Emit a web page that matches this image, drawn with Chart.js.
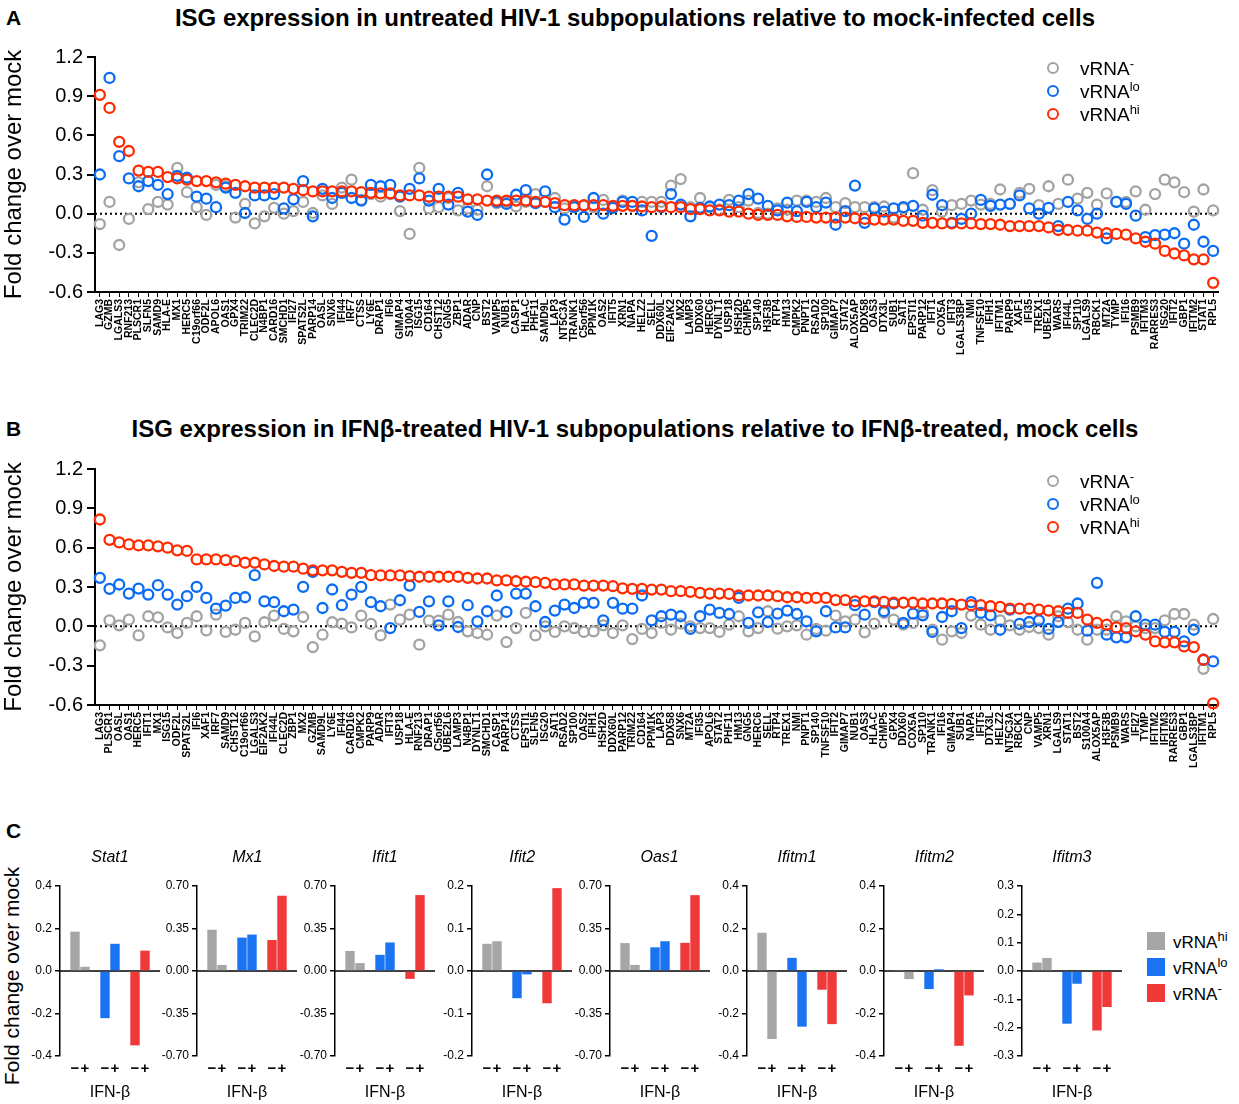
<!DOCTYPE html>
<html>
<head>
<meta charset="utf-8">
<script src="https://cdn.jsdelivr.net/npm/chart.js@4.4.0/dist/chart.umd.min.js"></script>
<style>
  body { margin: 0; background: #fff; font-family: "Liberation Sans", Arial, sans-serif; }
  #page { position: relative; width: 1239px; height: 1104px; overflow: hidden; }
  canvas { position: absolute; }
  .txt { position: absolute; color: #000; white-space: nowrap; }
  .letter { font-weight: bold; font-size: 21px; }
  .title { font-weight: bold; font-size: 24px; width: 1270px; text-align: center; left: 0; }
  .leg { position: absolute; font-size: 19px; line-height: 19px; white-space: nowrap; }
  .leg sup { font-size: 13px; vertical-align: 7px; line-height: 0; }
  .dot { display: inline-block; width: 8px; height: 8px; border-radius: 50%; border: 2.3px solid; margin-right: 21px; vertical-align: 1px; }
  .sq { display: inline-block; width: 18px; height: 18px; margin-right: 8px; vertical-align: -2px; }
  .gtitle { position: absolute; font-style: italic; font-size: 16px; width: 100px; text-align: center; }
</style>
</head>
<body>
<div id="page">
  <div class="txt letter" style="left:6px;top:6px">A</div>
  <div class="txt title" style="top:4px">ISG expression in untreated HIV-1 subpopulations relative to mock-infected cells</div>
  <canvas id="chartA" width="1239" height="340" style="left:0;top:40px"></canvas>
  <div class="leg" style="left:1047px;top:59px">
    <div style="height:23px"><span class="dot" style="border-color:#a3a3a3"></span>vRNA<sup>-</sup></div>
    <div style="height:23px"><span class="dot" style="border-color:#0a6cf5"></span>vRNA<sup>lo</sup></div>
    <div style="height:23px"><span class="dot" style="border-color:#ff2a00"></span>vRNA<sup>hi</sup></div>
  </div>

  <div class="txt letter" style="left:6px;top:417px">B</div>
  <div class="txt title" style="top:415px">ISG expression in IFNβ-treated HIV-1 subpopulations relative to IFNβ-treated, mock cells</div>
  <canvas id="chartB" width="1239" height="341" style="left:0;top:452px"></canvas>
  <div class="leg" style="left:1047px;top:472px">
    <div style="height:23px"><span class="dot" style="border-color:#a3a3a3"></span>vRNA<sup>-</sup></div>
    <div style="height:23px"><span class="dot" style="border-color:#0a6cf5"></span>vRNA<sup>lo</sup></div>
    <div style="height:23px"><span class="dot" style="border-color:#ff2a00"></span>vRNA<sup>hi</sup></div>
  </div>

  <div class="txt letter" style="left:6px;top:819px">C</div>
  <div class="txt" style="left:-108px;top:964px;font-size:21px;width:240px;text-align:center;transform:rotate(-90deg)">Fold change over mock</div>
  <div id="panelC"></div>
  <div class="leg" style="left:1147px;top:932px;font-size:17px">
    <div style="height:26px"><span class="sq" style="background:#a6a6a6"></span>vRNA<sup>hi</sup></div>
    <div style="height:26px"><span class="sq" style="background:#1a73f0"></span>vRNA<sup>lo</sup></div>
    <div style="height:26px"><span class="sq" style="background:#f03a3a"></span>vRNA<sup>-</sup></div>
  </div>
</div>

<script>
const FONT = '"Liberation Sans", Arial, sans-serif';
const RED = '#ff2a00';
const BLUE = '#0a6cf5';
const GREY = '#a3a3a3';

// panel A: untreated
const genesA = ['LAG3','GZMB','LGALS3','RNF213','PLSCR1','SLFN5','SAMD9','HLA-E','MX1','HERC5',
  'C19orf66','ODF2L','APOL6','OAS1','GPX4','TRIM22','CLEC2D','N4BP1','CARD16','SMCHD1',
  'IFI27','SPATS2L','PARP14','OASL','SNX6','IFI44','IRF7','CTSS','LY6E','DRAP1',
  'IFI6','GIMAP4','S100A4','ISG15','CD164','CHST12','GNG5','ZBP1','ADAR','CNP',
  'BST2','VAMP5','NUB1','CASP1','HLA-C','PHF11','SAMD9L','LAP3','NT5C3A','TRANK1',
  'C5orf56','PPM1K','OAS2','IFIT5','XRN1','NAPA','HELZ2','SELL','DDX60L','EIF2AK2',
  'MX2','LAMP3','DDX60','HERC6','DYNLT1','USP18','HSH2D','CHMP5','SP140','H3F3B',
  'RTP4','HM13','CMPK2','PNPT1','RSAD2','SP100','GIMAP7','STAT2','ALOX5AP','DDX58',
  'OAS3','DTX3L','SUB1','SAT1','EPSTI1','PARP12','IFIT1','COX5A','IFIT3','LGALS3BP',
  'NMI','TNFSF10','IFIH1','IFITM1','PARP9','XAF1','IFI35','TREX1','UBE2L6','WARS',
  'IFI44L','SP110','LGALS9','RBCK1','MT2A','TYMP','IFI16','PSMB9','IFITM3','RARRES3',
  'ISG20','IFIT2','GBP1','IFITM2','STAT1','RPL5'];
const hiA = [0.91,0.81,0.55,0.48,0.33,0.32,0.32,0.28,0.27,0.26,
  0.25,0.25,0.24,0.23,0.22,0.21,0.20,0.20,0.20,0.20,
  0.19,0.18,0.17,0.17,0.17,0.17,0.17,0.165,0.16,0.155,
  0.155,0.14,0.14,0.14,0.13,0.13,0.13,0.13,0.11,0.11,
  0.10,0.10,0.10,0.10,0.10,0.09,0.09,0.08,0.065,0.065,
  0.065,0.065,0.065,0.06,0.06,0.06,0.055,0.05,0.055,0.05,
  0.05,0.035,0.035,0.025,0.025,0.015,0.015,0.0,-0.01,-0.01,
  -0.01,-0.02,-0.025,-0.025,-0.03,-0.03,-0.03,-0.03,-0.035,-0.04,
  -0.045,-0.045,-0.045,-0.055,-0.055,-0.07,-0.07,-0.075,-0.075,-0.075,
  -0.075,-0.08,-0.08,-0.085,-0.095,-0.095,-0.095,-0.095,-0.105,-0.125,
  -0.125,-0.13,-0.13,-0.145,-0.15,-0.155,-0.16,-0.19,-0.215,-0.23,
  -0.285,-0.305,-0.32,-0.35,-0.35,-0.53];
const loA = [0.30,1.04,0.44,0.27,0.21,0.25,0.22,0.15,0.29,0.275,
  0.13,0.115,0.05,0.20,0.16,0.005,0.14,0.14,0.15,0.04,
  0.11,0.25,-0.02,0.19,0.12,0.16,0.12,0.10,0.22,0.21,
  0.22,0.13,0.19,0.27,0.10,0.19,0.07,0.16,0.015,-0.01,
  0.30,0.09,0.075,0.145,0.18,0.08,0.17,0.05,-0.045,0.05,
  -0.025,0.12,0.0,0.045,0.09,0.09,0.025,-0.17,0.05,0.15,
  0.07,-0.02,0.045,0.055,0.07,0.065,0.10,0.15,0.115,0.06,
  0.025,0.085,0.02,0.09,0.05,0.085,-0.085,0.02,0.215,-0.07,
  0.04,0.015,0.04,0.05,0.06,-0.015,0.145,0.065,-0.07,-0.04,
  0.0,0.105,0.06,0.07,0.075,0.14,0.04,0.0,0.045,-0.095,
  0.09,0.025,-0.04,0.0,-0.19,0.09,0.075,-0.015,-0.18,-0.165,
  -0.16,-0.15,-0.23,-0.085,-0.215,-0.285];
const negA = [-0.08,0.09,-0.24,-0.04,0.24,0.035,0.09,0.07,0.35,0.165,
  0.05,-0.01,0.22,0.21,-0.03,0.075,-0.075,-0.02,0.045,0.0,
  0.02,0.09,0.005,0.14,0.075,0.20,0.26,0.105,0.15,0.13,
  0.15,0.02,-0.155,0.35,0.04,0.05,0.12,0.025,0.04,0.03,
  0.21,0.08,0.09,0.055,0.09,0.15,0.09,0.12,0.04,0.05,
  0.06,0.05,0.105,0.05,0.10,0.06,0.09,0.09,0.09,0.215,
  0.265,0.05,0.12,0.05,0.03,0.105,0.05,0.10,0.005,0.0,
  0.04,0.03,0.10,0.10,0.09,0.12,0.05,0.08,0.05,0.05,
  0.05,0.055,-0.03,0.04,0.31,0.03,0.18,0.015,0.065,0.075,
  0.10,0.07,0.075,0.185,0.075,0.16,0.19,0.065,0.21,0.075,
  0.26,0.115,0.16,0.07,0.155,0.09,0.09,0.17,0.03,0.15,
  0.26,0.24,0.165,0.015,0.185,0.025];

// panel B: IFN-beta treated
const genesB = ['LAG3','PLSCR1','OASL','OAS1','HERC5','IFIT1','MX1','ISG15','ODF2L','SPATS2L',
  'IFI6','XAF1','IRF7','SAMD9','CHST12','C19orf66','LGALS3','EIF2AK2','IFI44L','CLEC2D',
  'ZBP1','MX2','GZMB','SAMD9L','LY6E','IFI44','CARD16','CMPK2','PARP9','ADAR',
  'IFIT3','USP18','HLA-E','RNF213','DRAP1','C5orf56','UBE2L6','LAMP3','N4BP1','DYNLT1',
  'SMCHD1','CASP1','PARP14','CTSS','EPSTI1','SLFN5','ISG20','SAT1','RSAD2','SP100',
  'OAS2','IFIH1','HSH2D','DDX60L','PARP12','TRIM22','CD164','PPM1K','LAP3','DDX58',
  'SNX6','MT2A','IFI35','APOL6','STAT2','PHF11','HM13','GNG5','HERC6','SELL',
  'RTP4','TREX1','NMI','PNPT1','SP140','TNFSF10','IFIT2','GIMAP7','NUB1','OAS3',
  'HLA-C','CHMP5','GPX4','DDX60','COX5A','SP110','TRANK1','IFI16','GIMAP4','SUB1',
  'NAPA','IFIT5','DTX3L','HELZ2','NT5C3A','RBCK1','CNP','VAMP5','XRN1','LGALS9',
  'STAT1','BST2','S100A4','ALOX5AP','H3F3B','PSMB9','WARS','IFI27','TYMP','IFITM2',
  'IFITM3','RARRES3','GBP1','LGALS3BP','IFITM1','RPL5'];
const hiB = [0.815,0.66,0.64,0.625,0.617,0.617,0.61,0.60,0.58,0.575,
  0.51,0.51,0.51,0.505,0.497,0.485,0.485,0.472,0.46,0.455,
  0.455,0.44,0.427,0.427,0.427,0.416,0.408,0.408,0.39,0.388,
  0.388,0.388,0.383,0.378,0.378,0.378,0.378,0.378,0.37,0.365,
  0.365,0.35,0.35,0.344,0.34,0.337,0.332,0.32,0.32,0.32,
  0.311,0.311,0.311,0.306,0.29,0.286,0.286,0.28,0.28,0.268,
  0.268,0.263,0.255,0.25,0.25,0.247,0.235,0.235,0.235,0.235,
  0.23,0.222,0.222,0.217,0.217,0.217,0.2,0.2,0.191,0.191,
  0.191,0.186,0.18,0.18,0.18,0.174,0.174,0.174,0.171,0.166,
  0.161,0.161,0.153,0.148,0.135,0.135,0.135,0.128,0.12,0.115,
  0.102,0.102,0.051,0.026,0.013,-0.008,-0.013,-0.038,-0.064,-0.115,
  -0.122,-0.122,-0.153,-0.158,-0.255,-0.587];
const loB = [0.37,0.286,0.319,0.25,0.288,0.242,0.314,0.242,0.166,0.23,
  0.301,0.217,0.135,0.158,0.217,0.222,0.39,0.191,0.184,0.115,
  0.128,0.301,0.416,0.14,0.281,0.161,0.242,0.301,0.184,0.153,
  -0.013,0.199,0.311,0.11,0.191,0.008,0.191,-0.005,0.161,0.038,
  0.115,0.235,0.11,0.25,0.25,0.153,0.033,0.12,0.166,0.14,
  0.179,0.179,0.046,0.179,0.135,0.135,0.235,0.046,0.077,0.089,
  0.077,-0.02,0.077,0.128,0.102,0.094,0.217,0.026,0.107,0.033,
  0.097,0.12,0.094,0.038,-0.038,0.115,-0.008,-0.008,0.161,0.089,
  0.184,0.115,0.174,0.026,0.097,0.084,-0.043,0.071,0.115,-0.013,
  0.184,0.102,0.084,-0.026,0.128,0.018,0.033,0.046,-0.02,0.033,
  0.135,0.174,-0.033,0.332,-0.064,-0.084,-0.084,0.077,0.013,0.013,
  -0.043,-0.043,-0.115,-0.026,-0.255,-0.268];
const negB = [-0.145,0.046,0.008,0.051,-0.069,0.077,0.069,-0.008,-0.051,0.026,
  0.077,-0.031,0.089,-0.043,-0.026,0.026,-0.077,0.031,0.082,-0.02,
  -0.038,0.071,-0.158,-0.064,0.031,0.02,-0.008,0.082,0.018,-0.069,
  0.166,0.051,0.089,-0.14,0.043,0.043,0.089,0.033,-0.038,-0.051,
  -0.064,0.082,-0.12,-0.013,0.102,-0.069,0.0,-0.043,0.0,-0.013,
  -0.043,-0.038,0.008,-0.051,0.008,-0.097,-0.02,-0.051,0.026,-0.026,
  0.02,0.0,-0.013,-0.013,-0.043,0.013,0.077,-0.038,-0.013,0.115,
  -0.018,0.0,0.008,-0.064,-0.02,-0.033,0.082,0.038,0.051,-0.046,
  0.02,0.102,0.051,0.013,0.026,0.107,-0.026,-0.102,-0.038,-0.051,
  0.082,0.013,-0.026,0.046,0.008,-0.026,-0.005,-0.013,-0.064,0.077,
  0.031,-0.026,-0.102,-0.026,-0.026,0.077,0.038,0.0,-0.013,-0.013,
  0.046,0.094,0.094,0.013,-0.324,0.056];

// panel C: [IFN-beta -, IFN-beta +] per gene
const cGenes = ['Stat1','Mx1','Ifit1','Ifit2','Oas1','Ifitm1','Ifitm2','Ifitm3'];
const cHi = [[0.185,0.02],[0.34,0.05],[0.165,0.065],[0.064,0.07],[0.23,0.05],[0.18,-0.32],[0.005,-0.038],[0.03,0.046]];
const cLo = [[-0.222,0.128],[0.275,0.3],[0.133,0.235],[-0.064,-0.008],[0.195,0.245],[0.062,-0.262],[-0.085,0.008],[-0.186,-0.045]];
const cNeg = [[-0.35,0.096],[0.255,0.62],[-0.065,0.625],[-0.076,0.195],[0.232,0.625],[-0.088,-0.25],[-0.352,-0.115],[-0.21,-0.127]];
const cMax = [0.4,0.7,0.7,0.2,0.7,0.4,0.4,0.3];
const cStep = [0.2,0.35,0.35,0.1,0.35,0.2,0.2,0.1];
const cDecimals = [1,2,2,1,2,1,1,1];
const cTicks = ['', '−', '+', '', '−', '+', '', '−', '+', ''];

Chart.defaults.font.family = FONT;
Chart.defaults.color = '#000';

const zeroLine = {
  id: 'zeroLine',
  beforeDatasetsDraw(chart, args, opts) {
    const { ctx, chartArea } = chart;
    const y = chart.scales.y.getPixelForValue(0);
    ctx.save();
    ctx.strokeStyle = '#000';
    ctx.lineWidth = opts.width || 2;
    ctx.setLineDash(opts.dash || []);
    ctx.beginPath();
    ctx.moveTo(chartArea.left, y);
    ctx.lineTo(chartArea.right, y);
    ctx.stroke();
    ctx.restore();
  }
};

const dot = (label, data, color) => ({
  label, data,
  showLine: false,
  borderColor: color,
  backgroundColor: 'rgba(255,255,255,0)',
  pointRadius: 5,
  pointHoverRadius: 5,
  pointBorderWidth: 2.3,
  clip: false
});

function drawGenePanel(id, genes, hi, lo, neg) {
  new Chart(document.getElementById(id), {
    type: 'line',
    data: {
      labels: genes,
      datasets: [dot('vRNAhi', hi, RED), dot('vRNAlo', lo, BLUE), dot('vRNA-', neg, GREY)]
    },
    options: {
      responsive: false,
      animation: false,
      layout: { padding: { top: 17, right: 21, left: 0, bottom: 0 } },
      plugins: {
        legend: { display: false },
        tooltip: { enabled: false },
        zeroLine: { width: 2, dash: [2, 3] }
      },
      scales: {
        x: {
          offset: true,
          grid: { drawOnChartArea: false, offset: false, tickLength: 5, color: '#000', lineWidth: 1 },
          border: { color: '#000', width: 2 },
          ticks: { autoSkip: false, maxRotation: 90, minRotation: 90, padding: 2,
                   font: { size: 10.5, weight: 'bold' } },
          afterFit: s => { s.height = 88; }
        },
        y: {
          min: -0.6, max: 1.2,
          ticks: { stepSize: 0.3, padding: 4, font: { size: 20 }, callback: v => v.toFixed(1) },
          grid: { drawOnChartArea: false, tickLength: 8, color: '#000', lineWidth: 2 },
          border: { color: '#000', width: 2 },
          title: { display: true, text: 'Fold change over mock', font: { size: 24 }, padding: { top: 0, bottom: 0 } },
          afterFit: s => { s.width = 95; }
        }
      }
    },
    plugins: [zeroLine]
  });
}

drawGenePanel('chartA', genesA, hiA, loA, negA);
drawGenePanel('chartB', genesB, hiB, loB, negB);

const BAR_GREY = '#a6a6a6';
const BAR_BLUE = '#1a73f0';
const BAR_RED = '#f03a3a';
const panelC = document.getElementById('panelC');

cGenes.forEach((gene, i) => {
  const axisX = 60 + i * 137.4;
  const canvas = document.createElement('canvas');
  canvas.width = 152;
  canvas.height = 262;
  canvas.style.left = (axisX - 48) + 'px';
  canvas.style.top = '840px';
  panelC.appendChild(canvas);

  const t = document.createElement('div');
  t.className = 'gtitle';
  t.textContent = gene;
  t.style.left = axisX + 'px';
  t.style.top = '848px';
  panelC.appendChild(t);

  const data = [null, cHi[i][0], cHi[i][1], null, cLo[i][0], cLo[i][1], null, cNeg[i][0], cNeg[i][1], null];
  const colors = ['', BAR_GREY, BAR_GREY, '', BAR_BLUE, BAR_BLUE, '', BAR_RED, BAR_RED, ''];

  new Chart(canvas, {
    type: 'bar',
    data: {
      labels: cTicks,
      datasets: [{ data, backgroundColor: colors, barPercentage: 0.94, categoryPercentage: 1 }]
    },
    options: {
      responsive: false,
      animation: false,
      layout: { padding: { top: 46, right: 4, left: 0, bottom: 0 } },
      plugins: {
        legend: { display: false },
        tooltip: { enabled: false },
        zeroLine: { width: 1.5 }
      },
      scales: {
        x: {
          grid: { display: false },
          border: { display: false },
          ticks: { autoSkip: false, maxRotation: 0, minRotation: 0, padding: -4,
                   font: { size: 15, weight: 'bold' } },
          title: { display: true, text: 'IFN-β', font: { size: 16 }, padding: { top: 0, bottom: 0 } },
          afterFit: s => { s.height = 46; }
        },
        y: {
          min: -cMax[i], max: cMax[i],
          ticks: { stepSize: cStep[i], padding: 3, font: { size: 12 }, callback: v => v.toFixed(cDecimals[i]) },
          grid: { drawOnChartArea: false, tickLength: 5, color: '#000', lineWidth: 1.5 },
          border: { color: '#000', width: 1.5 },
          afterFit: s => { s.width = 48; }
        }
      }
    },
    plugins: [zeroLine]
  });
});
</script>
</body>
</html>
